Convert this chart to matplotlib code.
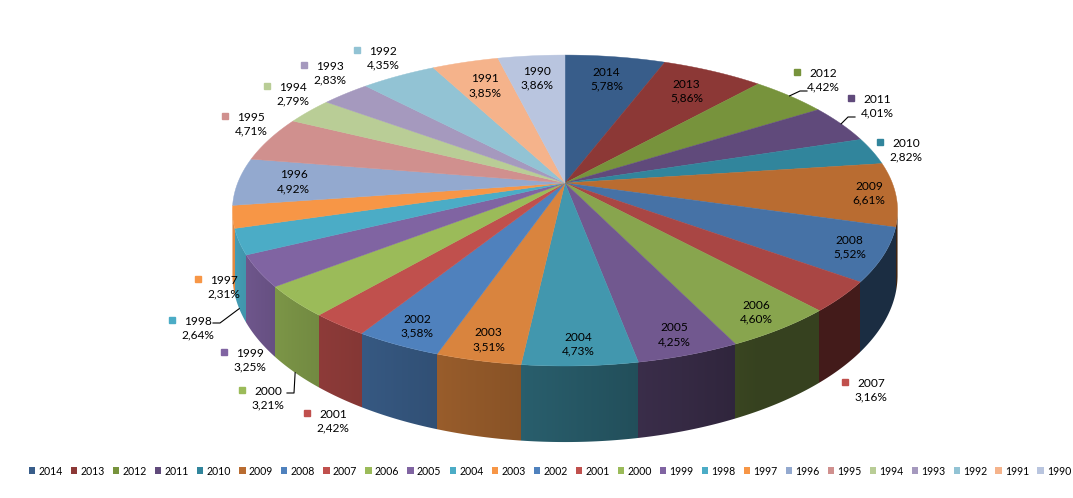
import numpy as np
import matplotlib.pyplot as plt
from matplotlib.patches import Polygon, Patch
from matplotlib.colors import to_rgb

plt.rcParams['font.family'] = ['Lato', 'DejaVu Sans']

years = ['2014', '2013', '2012', '2011', '2010', '2009', '2008', '2007', '2006',
         '2005', '2004', '2003', '2002', '2001', '2000', '1999', '1998', '1997',
         '1996', '1995', '1994', '1993', '1992', '1991', '1990']
shares = [5.78, 5.86, 4.42, 4.01, 2.82, 6.61, 5.52, 3.16, 4.60, 4.25, 4.73, 3.51,
          3.58, 2.42, 3.21, 3.25, 2.64, 2.31, 4.92, 4.71, 2.79, 2.83, 4.35, 3.85, 3.86]
colors = ['#385D8A', '#8C3836', '#77933C', '#604A7B', '#31859C', '#B96C31',
          '#4F81BD', '#C0504D', '#9BBB59', '#8064A2', '#4BACC6', '#F79646',
          '#4F81BD', '#C0504D', '#9BBB59', '#8064A2', '#4BACC6', '#F79646',
          '#93A9CF', '#D0908E', '#B9CD96', '#A599BE', '#92C3D4', '#F5B38B', '#B9C5DF']

# labels sitting on the slice: radius factor on the top face
inside_r = {'2014': 0.8, '2013': 0.8, '2009': 0.92, '2008': 0.9, '2006': 0.9,
            '2005': 0.9, '2004': 0.9, '2003': 0.9, '2002': 0.9, '1996': 0.83,
            '1991': 0.78, '1990': 0.8}
# labels outside the pie (pixel centre of the two-line block)
outside_xy = {'2012': (823, 80), '2011': (877, 106), '2010': (906, 150),
              '2007': (871, 390), '2001': (333, 421), '2000': (268, 398),
              '1999': (250, 360), '1998': (198, 328), '1997': (224, 287),
              '1995': (251, 124), '1994': (293, 94), '1993': (330, 73),
              '1992': (383, 58)}
# leader lines: end offset from label centre, and whether they start at the bottom rim
leaders = {'2012': (-16, 11, False), '2011': (-22, 11, False),
           '1998': (15, -5, True), '2000': (19, -5, True)}

# pie geometry in pixels (perspective squeezes the back half)
cx, cy = 565, 183
a, b, k = 327.3, 150.6, 0.177
depth = 62.6


def proj(t, r=1.0):
    u = r * np.sin(t)
    v = -r * np.cos(t)
    d = 1 - k * v
    return cx + a * u / d, cy + b * v / d


def drop(t):
    return depth / (1 + k * np.cos(t))


def shade(c, f):
    return tuple(np.clip(np.array(to_rgb(c)) * f, 0, 1))


fig = plt.figure(figsize=(10.73, 4.98), dpi=100)
ax = fig.add_axes([0, 0, 1, 1])
ax.set_xlim(0, 1073)
ax.set_ylim(498, 0)
ax.axis('off')

fr = np.array(shares) / np.sum(shares)
edges = np.concatenate([[0], np.cumsum(fr)]) * 360

# side wall: front arc between the two widest points
t_lo = np.degrees(np.arccos(-k))
t_hi = 360 - t_lo
tt = np.linspace(t_lo, t_hi, 1500)
rx, ry = proj(np.radians(tt))
by = ry + drop(np.radians(tt))
outline = list(zip(rx, ry)) + list(zip(rx[::-1], by[::-1]))
wall = Polygon(outline, closed=True, facecolor='none', edgecolor='none')
ax.add_patch(wall)

x0, x1 = int(rx.min()) - 2, int(rx.max()) + 3
y0, y1 = int(ry.min()) - 2, int(by.max()) + 3
cols = np.arange(x0, x1) + 0.5
t_col = np.interp(cols, rx[::-1], tt[::-1])
idx = np.clip(np.searchsorted(edges, t_col, side='right') - 1, 0, len(years) - 1)
light = np.clip(0.35 + 0.55 * (t_col - 150) / 100, 0.35, 0.92)
row = np.array([to_rgb(colors[j]) for j in idx]) * light[:, None]
img = np.repeat(row[None, :, :], y1 - y0, axis=0)
im = ax.imshow(img, extent=(x0, x1, y1, y0), origin='upper', interpolation='nearest',
               aspect='auto', zorder=2)
im.set_clip_path(wall)
ax.set_xlim(0, 1073)
ax.set_ylim(498, 0)

# top face
for i in range(len(years)):
    ts = np.radians(np.linspace(edges[i], edges[i + 1], 60))
    xs, ys = proj(ts)
    pts = [(cx, cy)] + list(zip(xs, ys))
    mid = 0.5 * (edges[i] + edges[i + 1])
    c = shade(colors[i], 0.88 if 100 <= mid <= 198 else 1.0)
    ax.add_patch(Polygon(pts, closed=True, facecolor=c, edgecolor=c, lw=0.3, zorder=3))

# data labels
for i, yr in enumerate(years):
    pct = f'{shares[i]:.2f}'.replace('.', ',') + '%'
    mid = np.radians(0.5 * (edges[i] + edges[i + 1]))
    if yr in inside_r:
        x, y = proj(mid, inside_r[yr])
        ax.text(x, y, f'{yr}\n{pct}', ha='center', va='center', fontsize=8.6,
                linespacing=1.3, color='black', zorder=5)
    else:
        x, y = outside_xy[yr]
        ax.text(x, y, f'{yr}\n{pct}', ha='center', va='center', fontsize=8.6,
                linespacing=1.3, color='black', zorder=5)
        ax.plot(x - 26, y - 8, 's', ms=5, color=colors[i], zorder=5)
        if yr in leaders:
            dx, dy, bottom = leaders[yr]
            sx, sy = proj(mid)
            if bottom:
                sy = sy + drop(mid)
            ex, ey = x + dx, y + dy
            elbow = ex - 7 if dx < 0 else ex + 7
            ax.plot([sx, elbow, ex], [sy, ey, ey], color='black', lw=0.8, zorder=4)

handles = [Patch(facecolor=c, edgecolor='none') for c in colors]
fig.legend(handles, years, loc='center', bbox_to_anchor=(550 / 1073, 27 / 498), ncol=25,
           frameon=False, fontsize=7.6, handlelength=0.6, handleheight=0.6,
           handletextpad=0.3, columnspacing=0.78, borderpad=0, borderaxespad=0)

fig.savefig('out.png', dpi=100)
